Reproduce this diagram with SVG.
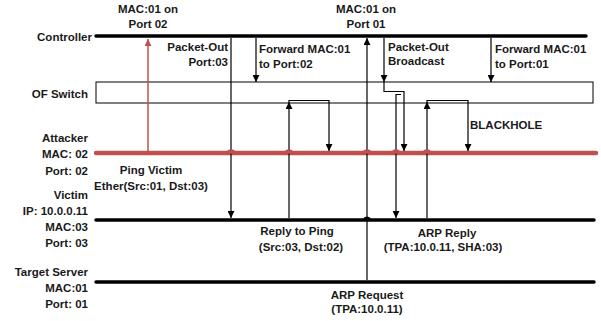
<svg xmlns="http://www.w3.org/2000/svg" width="601" height="321" viewBox="0 0 601 321">
<defs>
<marker id="ah" markerUnits="userSpaceOnUse" markerWidth="8" markerHeight="7" refX="7" refY="3.5" orient="auto">
<path d="M0,0 L7,3.5 L0,7 z" fill="#000"/>
</marker>
<marker id="ahr" markerUnits="userSpaceOnUse" markerWidth="8" markerHeight="7" refX="7" refY="3.5" orient="auto">
<path d="M0,0 L7,3.5 L0,7 z" fill="#c0504d"/>
</marker>
</defs>
<style>
text{font-family:"Liberation Sans",Arial,sans-serif;font-weight:bold;font-size:11.5px;fill:#1a1a1a}
.r{text-anchor:end}
.m{text-anchor:middle}
.life{stroke:#000;stroke-width:3.5;stroke-linecap:round;fill:none}
.msg{stroke:#000;stroke-width:1.2;fill:none}
</style>
<rect width="601" height="321" fill="#fff"/>

<g id="controller">
<line class="life" x1="96" y1="36" x2="586" y2="36"/>
<text class="r" x="92" y="41">Controller</text>
</g>
<g id="of-switch">
<rect x="96" y="82" width="497" height="21" fill="#fff" stroke="#000" stroke-width="1"/>
<text class="r" x="88" y="98">OF Switch</text>
</g>
<g id="attacker">
<line x1="96" y1="153" x2="596" y2="153" stroke="#c0504d" stroke-width="4.5" stroke-linecap="round"/>
<text class="r" x="88" y="142">Attacker</text>
<text class="r" x="88" y="158">MAC: 02</text>
<text class="r" x="88" y="175">Port: 02</text>
</g>
<g id="victim">
<line class="life" x1="96" y1="220" x2="594" y2="220"/>
<text class="r" x="88" y="199">Victim</text>
<text class="r" x="88" y="215">IP: 10.0.0.11</text>
<text class="r" x="88" y="231">MAC:03</text>
<text class="r" x="88" y="247">Port: 03</text>
</g>
<g id="target-server">
<line class="life" x1="96" y1="282" x2="594" y2="282"/>
<text class="r" x="88" y="276">Target Server</text>
<text class="r" x="88" y="292">MAC:01</text>
<text class="r" x="88" y="308">Port: 01</text>
</g>

<g id="connectors">
<path d="M148,151 V39" stroke="#c0504d" stroke-width="1.5" fill="none" marker-end="url(#ahr)"/>
<path class="msg" d="M231,38 V218" marker-end="url(#ah)"/>
<path class="msg" d="M256,38 V82" marker-end="url(#ah)"/>
<path class="msg" d="M289,218 V102" marker-end="url(#ah)"/>
<path class="msg" d="M289,102 V100.5 H329 V151" marker-end="url(#ah)"/>
<path class="msg" d="M367,280 V38" marker-end="url(#ah)"/>
<path class="msg" d="M384,38 V82" marker-end="url(#ah)"/>
<path class="msg" d="M384,82 V91.5 H404 V151" marker-end="url(#ah)"/>
<path class="msg" d="M401,94.5 H396 V218" marker-end="url(#ah)"/>
<path class="msg" d="M427,218 V102" marker-end="url(#ah)"/>
<path class="msg" d="M427,102 V100.5 H468 V151" marker-end="url(#ah)"/>
<path class="msg" d="M491,38 V82" marker-end="url(#ah)"/>
<g fill="#c0504d" stroke="#c0504d" stroke-width="1.5">
<path d="M227.5,153 a3.5,3 0 0 1 7,0 z"/>
<path d="M285.5,153 a3.5,3 0 0 1 7,0 z"/>
<path d="M363.5,153 a3.5,3 0 0 1 7,0 z"/>
<path d="M392.5,153 a3.5,3 0 0 1 7,0 z"/>
<path d="M423.5,153 a3.5,3 0 0 1 7,0 z"/>
</g>
<path d="M363.5,220 a3.5,3 0 0 1 7,0 z" fill="#000" stroke="#000" stroke-width="1"/>
</g>

<g id="labels">
<text class="m" x="148" y="13">MAC:01 on</text>
<text class="m" x="148" y="28">Port 02</text>
<text class="r" x="228" y="51">Packet-Out</text>
<text class="r" x="228" y="66">Port:03</text>
<text x="259" y="53">Forward MAC:01</text>
<text x="259" y="68">to Port:02</text>
<text class="m" x="366" y="13">MAC:01 on</text>
<text class="m" x="366" y="28">Port 01</text>
<text x="388" y="51">Packet-Out</text>
<text x="388" y="65">Broadcast</text>
<text x="495" y="53">Forward MAC:01</text>
<text x="495" y="68">to Port:01</text>
<text x="470" y="129">BLACKHOLE</text>
<text class="m" x="151" y="174">Ping Victim</text>
<text class="m" x="151" y="190">Ether(Src:01, Dst:03)</text>
<text class="m" x="297" y="235">Reply to Ping</text>
<text class="m" x="301" y="251">(Src:03, Dst:02)</text>
<text class="m" x="447" y="237">ARP Reply</text>
<text class="m" x="443" y="251">(TPA:10.0.11, SHA:03)</text>
<text class="m" x="367" y="299">ARP Request</text>
<text class="m" x="367" y="313">(TPA:10.0.11)</text>
</g>
</svg>
